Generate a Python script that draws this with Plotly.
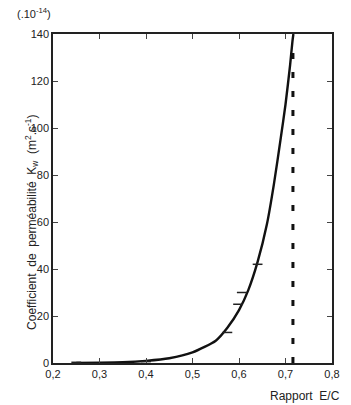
import plotly.graph_objects as go

# Fitted curve
curve_x = [0.25, 0.30, 0.35, 0.40, 0.45, 0.50, 0.55, 0.575, 0.60, 0.62, 0.64, 0.66, 0.675, 0.69, 0.70, 0.71, 0.715, 0.717]
curve_y = [0.0, 0.1, 0.3, 0.9, 2.0, 4.5, 9.5, 15, 22.5, 31, 43, 59, 76, 96, 110, 127, 137, 140]

# Measured points
pts_x = [0.25, 0.40, 0.575, 0.598, 0.606, 0.64]
pts_y = [0.3, 0.6, 13, 25, 30, 42]

# Limit ratio (dashed line)
limit_x = 0.716
limit_y = [0, 136]

x_ticks = [0.2, 0.3, 0.4, 0.5, 0.6, 0.7, 0.8]
x_ticktext = ["0,2", "0,3", "0,4", "0,5", "0,6", "0,7", "0,8"]
y_ticks = [0, 20, 40, 60, 80, 100, 120, 140]

fig = go.Figure()
fig.add_trace(go.Scatter(x=curve_x, y=curve_y, mode="lines", line=dict(color="#111", width=2.4, shape="spline", smoothing=0.6), showlegend=False))
fig.add_trace(go.Scatter(x=pts_x, y=pts_y, mode="markers", marker=dict(symbol="line-ew-open", size=7, color="#222", line=dict(color="#222", width=1.5)), showlegend=False))
fig.add_trace(go.Scatter(x=[limit_x, limit_x], y=limit_y, mode="lines", line=dict(color="#111", width=3, dash="6px,13px"), showlegend=False))

font = dict(family="Liberation Sans, Arial, sans-serif", size=11, color="#222")
tfont = dict(family="Liberation Sans, Arial, sans-serif", size=12, color="#222")
fig.update_layout(
    width=351, height=405,
    margin=dict(l=53, r=11, t=34, b=42),
    paper_bgcolor="white", plot_bgcolor="white",
    font=font,
    xaxis=dict(range=[0.2, 0.8], tickvals=x_ticks, ticktext=x_ticktext, ticks="inside", ticklen=5,
               showline=True, linecolor="#222", linewidth=1.5, mirror="ticks", showgrid=False, zeroline=False,
               tickfont=font),
    yaxis=dict(range=[0, 140], tickvals=y_ticks, ticks="inside", ticklen=5,
               showline=True, linecolor="#222", linewidth=1.5, mirror="ticks", showgrid=False, zeroline=False,
               tickfont=font),
    annotations=[
        dict(text="(.10<sup>-14</sup>)", x=14, y=4, xref="paper", yref="paper", showarrow=False,
             xanchor="left", yanchor="top", font=font),
        dict(text="Coefficient  de  perméabilité  K<sub>w</sub>  (m<sup>2</sup>.s<sup>-1</sup>)", x=20, y=222,
             xref="paper", yref="paper", showarrow=False, textangle=-90, font=tfont),
        dict(text="Rapport  E/C", x=350, y=405, xref="paper", yref="paper", showarrow=False,
             xanchor="right", yanchor="bottom", font=tfont),
    ],
)

# convert pixel-based annotation positions to paper coordinates
pw, ph = 351 - 53 - 11, 405 - 34 - 42
for a in fig.layout.annotations:
    px, py = a.x, a.y
    a.x = (px - 53) / pw
    a.y = 1 - (py - 34) / ph

fig.write_html("out.html")
